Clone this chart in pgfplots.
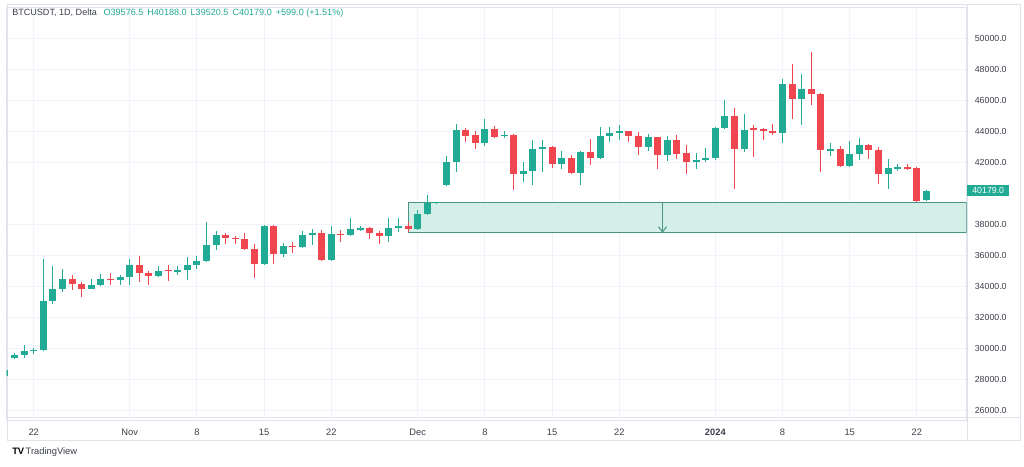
\documentclass[border=0pt]{standalone}
\usepackage{fontspec}
\setmainfont{Liberation Sans}
\usepackage{pgfplots}
\pgfplotsset{compat=1.18}
\usepackage{pgfplotstable}
\usetikzlibrary{arrows.meta}

\definecolor{upc}{RGB}{34,171,148}
\definecolor{dnc}{RGB}{240,70,80}
\definecolor{zonefill}{RGB}{212,238,232}
\definecolor{zoneline}{RGB}{70,150,130}
\definecolor{gridc}{RGB}{240,243,250}
\definecolor{framec}{RGB}{224,227,235}
\definecolor{txt}{RGB}{60,64,75}

% day index d: 0 = 22 Oct 2023
\pgfplotstableread{
d  O      H      L      C
-3 28200  28650  28150  28600
-2 29400  29680  29330  29580
-1 29550  30230  29400  29830
0  29830  30050  29650  29900
1  29880  35780  29800  33030
2  33030  35310  32880  33850
3  33850  35100  33640  34450
6  33850  34490  33800  34070
7  34070  34800  34000  34460
9  34440  34720  34060  34620
10 34620  35740  34100  35400
13 34650  35280  34580  35020
15 34990  35290  34740  35050
16 35040  35890  34390  35360
17 35360  35980  35100  35610
18 35610  38150  35540  36690
19 36690  37550  36320  37290
24 35460  37980  35360  37880
26 36110  36800  35860  36590
28 36560  37560  36470  37340
29 37340  37720  36650  37420
31 35720  37880  35630  37400
33 37320  38400  37250  37680
34 37680  37880  37590  37760
37 37230  38390  36860  37770
38 37800  38420  37520  37870
40 37720  38950  37610  38650
41 38650  39900  38620  39390
42 39380  39440  39370  39440
43 40560  42420  40450  41990
44 41990  44450  41400  44080
47 43230  44770  43080  44170
49 43700  44050  43560  43790
51 41240  42030  40700  41450
52 41450  43440  40530  42880
53 42880  43420  41400  43010
55 41900  42720  41600  42270
57 41320  42760  40550  42660
59 42280  44300  42220  43700
60 43700  44280  43340  43890
61 43890  44440  43420  44000
64 42990  43800  42760  43620
66 42450  43700  42080  43420
69 42020  42620  41540  42130
70 42130  42920  42020  42280
71 42280  44250  42180  44210
72 44210  46000  44150  44970
74 42840  45100  42660  44100
78 43890  47400  43250  47050
80 46100  47680  44390  46700
83 42780  43250  42430  42840
85 41740  43370  41720  42550
86 42550  43570  42130  43140
89 41270  42230  40300  41630
90 41630  41880  41420  41700
93 39576.5 40188 39520.5 40179
}\up

\pgfplotstableread{
d  O      H      L      C
4  34450  34710  33740  34120
5  34120  34250  33320  33850
8  34500  34860  34080  34440
11 35400  35960  34280  34880
12 34880  34960  34100  34650
14 35060  35360  34320  34990
20 37300  37420  36750  37150
21 37150  37250  36730  37060
22 37060  37420  36330  36430
23 36430  36740  34550  35460
25 37880  37930  35460  36110
27 36610  36850  36180  36540
30 37420  37650  35650  35720
32 37400  37620  36880  37320
35 37760  37810  37080  37420
36 37420  37560  36750  37230
39 37860  38140  37500  37720
45 44080  44230  43310  43700
46 43740  44040  42840  43230
48 44170  44360  43580  43660
50 43790  43800  40240  41240
54 43010  43080  41660  41900
56 42270  42490  41260  41320
58 42660  43520  41810  42280
62 44000  44020  43300  43720
63 43720  43950  42500  42990
65 43620  43660  41600  42450
67 43420  43780  42240  42560
68 42620  43130  41270  42020
73 44970  45500  40250  42840
75 44200  44390  42350  44130
76 44130  44220  43420  44000
77 43990  44490  43740  43930
79 47050  48360  44800  46100
81 46700  49120  45680  46390
82 46390  46500  41370  42780
84 42840  43080  41720  41740
87 43140  43200  42200  42780
88 42780  42990  40620  41270
91 41700  41870  41500  41620
92 41620  41700  39430  39530
}\down

\begin{document}
\begin{tikzpicture}[x=0.75pt,y=0.75pt]
\useasboundingbox (0,0) rectangle (1024,467);
\fill[white] (0,0) rectangle (1024,467);
% panel frame
\draw[framec, line width=0.75pt] (7,26) rectangle (1020,462);
\draw[framec, line width=0.75pt] (967,26) -- (967,462);
\draw[framec, line width=0.75pt] (7,49) -- (1020,49);
\begin{axis}[
  at={(7,30.3)}, anchor=south west,
  scale only axis, width=720pt, height=309.75pt,
  xmin=-2.8125, xmax=97.1875, ymin=25374, ymax=52019,
  axis line style={draw=framec, line width=0.75pt},
  xtick={0,10,17,24,31,40,47,54,61,71,78,85,92},
  xticklabels={22,Nov,8,15,22,Dec,8,15,22,\textbf{2024},8,15,22},
  ytick={26000,28000,30000,32000,34000,36000,38000,42000,44000,46000,48000,50000},
  scaled y ticks=false,
  yticklabel pos=right,
  /pgf/number format/assume math mode=true,
  y tick label style={/pgf/number format/fixed, /pgf/number format/fixed zerofill,
    /pgf/number format/precision=1, /pgf/number format/1000 sep={}},
  x tick label style={font=\fontsize{7}{8}\selectfont, text=txt, anchor=center, yshift=-9pt},
  y tick label style={font=\fontsize{6.6}{8}\selectfont, text=txt, anchor=center, xshift=18pt},
  major tick length=0pt,
  grid=major, major grid style={draw=gridc, line width=0.75pt},
  clip mode=individual,
]
% zone
\addplot[fill=zonefill, draw=zoneline, line width=0.75pt, forget plot]
  coordinates {(39,37450) (97.1875,37450) (97.1875,39380) (39,39380)} -- cycle;
\addplot[zoneline, line width=0.75pt, -{Straight Barb[length=4pt,width=6pt]}, forget plot]
  coordinates {(65.5,39380) (65.5,37450)};
% wicks
\addplot[draw=none, no markers, forget plot,
  error bars/.cd, y dir=both, y explicit, error mark=none,
  error bar style={draw=upc, line width=0.75pt, solid}]
  table[x=d, y expr={(\thisrow{H}+\thisrow{L})/2}, y error expr={(\thisrow{H}-\thisrow{L})/2}] {\up};
\addplot[draw=none, no markers, forget plot,
  error bars/.cd, y dir=both, y explicit, error mark=none,
  error bar style={draw=dnc, line width=0.75pt, solid}]
  table[x=d, y expr={(\thisrow{H}+\thisrow{L})/2}, y error expr={(\thisrow{H}-\thisrow{L})/2}] {\down};
% bodies
\addplot[draw=none, no markers, forget plot,
  error bars/.cd, y dir=both, y explicit, error mark=none,
  error bar style={draw=upc, line width=5.25pt, solid}]
  table[x=d, y expr={(\thisrow{O}+\thisrow{C})/2}, y error expr={abs(\thisrow{C}-\thisrow{O})/2}] {\up};
\addplot[draw=none, no markers, forget plot,
  error bars/.cd, y dir=both, y explicit, error mark=none,
  error bar style={draw=dnc, line width=5.25pt, solid}]
  table[x=d, y expr={(\thisrow{O}+\thisrow{C})/2}, y error expr={abs(\thisrow{C}-\thisrow{O})/2}] {\down};
% last price label
\node[fill=upc, text=white, font=\fontsize{6.6}{8}\selectfont, inner xsep=4pt, inner ysep=2pt, anchor=west]
  at (axis cs:97.1875,40179) {40179.0};
\end{axis}
% header
\node[anchor=west, font=\fontsize{6.8}{8}\selectfont, inner sep=0pt] at (12,454)
  {\textcolor{txt}{BTCUSDT, 1D, Delta}\hspace{5pt}\textcolor{upc}{O39576.5\hspace{3pt}H40188.0\hspace{3pt}L39520.5\hspace{3pt}C40179.0\hspace{3pt}+599.0 (+1.51\%)}};
% logo
\node[anchor=west, font=\fontsize{7}{8}\selectfont, inner sep=0pt, text=txt] at (12,15)
  {\textbf{\color{black}TV}\,TradingView};
\end{tikzpicture}
\end{document}
